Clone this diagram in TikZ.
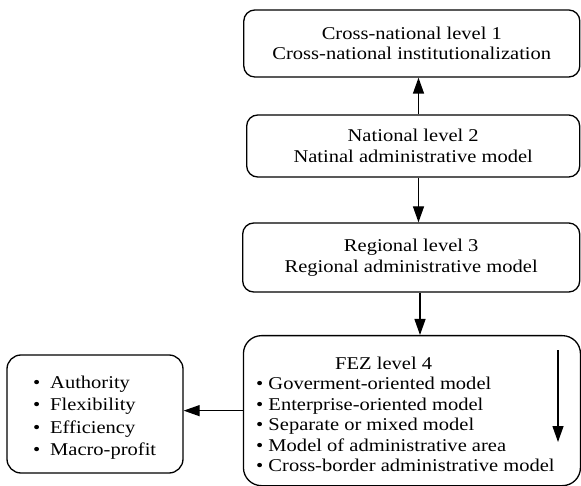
\documentclass[tikz,border=0pt]{standalone}
\usepackage{fontspec}
\setmainfont{Liberation Serif}[FakeStretch=1.14]
\usetikzlibrary{arrows.meta}

\tikzset{
  levelbox/.style={draw, line width=1.3pt, rounded corners=11pt, inner sep=0pt,
    align=center, font=\fontsize{18}{20.5}\selectfont},
  listtext/.style={inner sep=0pt, align=left, font=\fontsize{18}{20.5}\selectfont},
  arr/.style={line width=1.3pt, -{Triangle[length=16pt,width=11pt]}}
}

\begin{document}
\begin{tikzpicture}[x=1pt,y=1pt]
  \useasboundingbox (0,0) rectangle (581,-486);

  % level boxes
  \node[levelbox, minimum width=336pt, minimum height=67pt] (lvl1) at (411.8,-43.5)
    {Cross-national level 1\\Cross-national institutionalization};
  \node[levelbox, minimum width=333pt, minimum height=62pt] (lvl2) at (413.2,-146)
    {National level 2\\Natinal administrative model};
  \node[levelbox, minimum width=337pt, minimum height=69pt] (lvl3) at (411.2,-257.5)
    {Regional level 3\\Regional administrative model};

  % FEZ level box and its list
  \node[draw, line width=1.3pt, rounded corners=18pt, inner sep=0pt,
        minimum width=337pt, minimum height=150pt, anchor=north west] (fez) at (242.8,-335) {};
  \node[listtext, anchor=north west] (fezlist) at (256,-356.5)
    {\hspace*{79pt}FEZ level 4\\
     • Goverment-oriented model\\
     • Enterprise-oriented model\\
     • Separate or mixed model\\
     • Model of administrative area\\
     • Cross-border administrative model};

  % criteria box
  \node[draw, line width=1.3pt, rounded corners=14pt, inner sep=0pt,
        minimum width=176pt, minimum height=118pt] (crit) at (95,-414) {};
  \node[listtext, anchor=north west, font=\fontsize{18}{22.3}\selectfont] (critlist) at (33,-376)
    {\makebox[17pt][l]{•}Authority\\
     \makebox[17pt][l]{•}Flexibility\\
     \makebox[17pt][l]{•}Efficiency\\
     \makebox[17pt][l]{•}Macro-profit};

  % connectors
  \coordinate (ax) at (418.5,0);
  \coordinate (bx) at (420,0);
  \draw[arr] (lvl2.north -| ax) -- (lvl1.south -| ax);
  \draw[arr] (lvl2.south -| ax) -- (lvl3.north -| ax);
  \draw[arr] (lvl3.south -| bx) -- (fez.north -| bx);
  \draw[arr] (fez.west) -- (fez.west -| crit.east);

  % downward arrow inside the FEZ box
  \coordinate (din) at (558,-350);
  \coordinate (dout) at (558,-442);
  \draw[arr] (din) -- (dout);
\end{tikzpicture}
\end{document}
